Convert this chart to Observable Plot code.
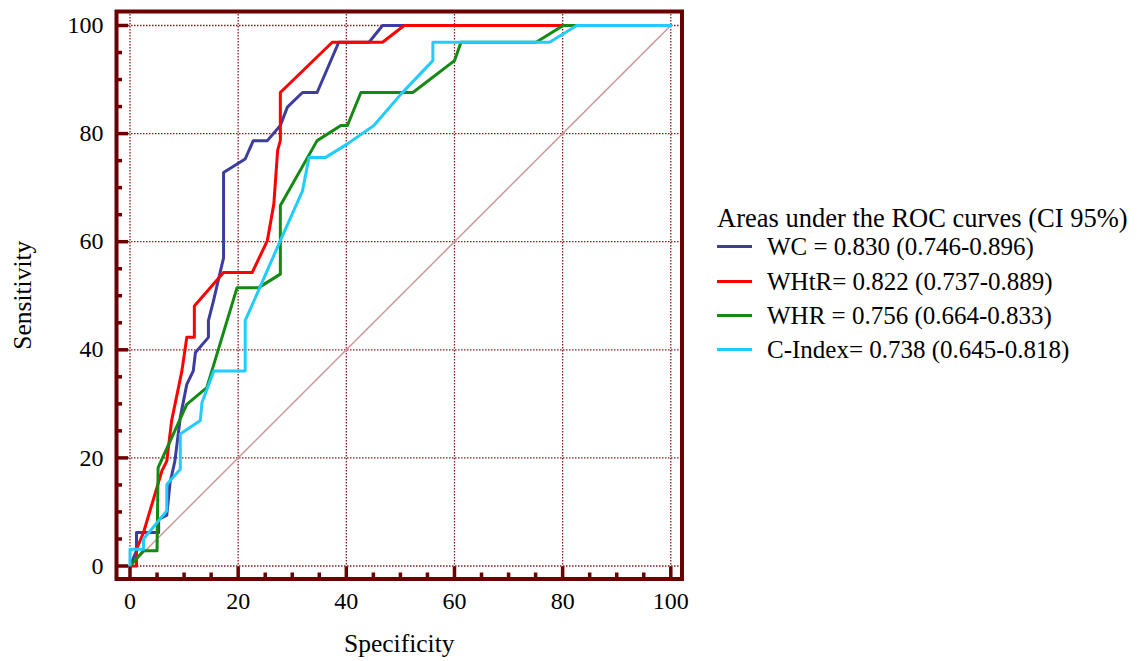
<!DOCTYPE html>
<html><head><meta charset="utf-8">
<script src="https://cdn.jsdelivr.net/npm/d3@7"></script>
<script src="https://cdn.jsdelivr.net/npm/@observablehq/plot@0.6"></script>
<style>
html,body{margin:0;padding:0;background:#fff;}
#wrap{position:relative;width:1138px;height:661px;font-family:"Liberation Serif","Tinos","DejaVu Serif","Noto Serif","Times New Roman",Times,serif;color:#000;}
#wrap svg{position:absolute;left:0;top:0;}
.lg{position:absolute;white-space:nowrap;line-height:1;}
.sw{position:absolute;width:35px;height:3px;}
</style></head><body><div id="wrap"></div>
<script>
// Series names, labels and colours
const seriesNames = ["WC", "WHtR", "WHR", "C-Index"];
const legendLabels = ["WC = 0.830 (0.746-0.896)", "WHtR= 0.822 (0.737-0.889)", "WHR = 0.756 (0.664-0.833)", "C-Index= 0.738 (0.645-0.818)"];
const legendTitle = "Areas under the ROC curves (CI 95%)";
const seriesColors = ["#3d3d9e", "#ff0000", "#138a13", "#22ccff"];

// ROC curves (x = axis labelled "Specificity", y = Sensitivity)
const wcX = [0, 1.2, 1.2, 5.3, 5.3, 6.8, 7.4, 8.3, 9.3, 10.5, 11.7, 12.1, 14.5, 14.5, 15.4, 17.3, 17.3, 21.3, 22.8, 25.4, 27.8, 29.1, 31.9, 34.6, 38.6, 44.2, 46.7, 100];
const wcY = [0, 2.8, 6.2, 6.2, 8.6, 9.4, 15.4, 19.4, 27.5, 33.6, 36.1, 39.5, 42.3, 45.4, 48.9, 57, 72.8, 75.3, 78.7, 78.7, 81.5, 84.9, 87.6, 87.6, 96.9, 96.9, 100, 100];

const whtrX = [0, 1.2, 1.2, 2.5, 5.9, 6.8, 7.7, 9.6, 10.5, 11.9, 11.9, 17.3, 22.6, 25.4, 26.6, 27.3, 27.8, 27.8, 37.4, 46.7, 50.7, 100];
const whtrY = [0, 0, 3.1, 6.2, 17.6, 19.4, 26.9, 36.1, 42.3, 42.3, 48.1, 54.3, 54.3, 60.2, 67, 76.9, 78.7, 87.6, 96.9, 96.9, 100, 100];

const whrX = [0, 2.5, 5.0, 5.2, 10.5, 14.2, 19.8, 23.8, 27.8, 27.8, 34.6, 39.0, 40.2, 42.7, 52.3, 60.0, 61.2, 75.1, 80.1, 100];
const whrY = [0, 2.8, 2.8, 18.2, 29.9, 33.0, 51.5, 51.5, 54.0, 66.7, 78.7, 81.5, 81.5, 87.6, 87.6, 93.5, 96.9, 96.9, 100, 100];

const cidxX = [0, 0, 2.5, 2.5, 6.8, 6.8, 9.3, 9.3, 13.0, 13.3, 15.5, 21.3, 21.3, 22.9, 27.8, 31.9, 33.1, 36.2, 40.2, 45.1, 50.1, 56.0, 56.0, 77.6, 82.6, 100];
const cidxY = [0, 3.1, 3.1, 5.0, 10.2, 15.1, 17.9, 24.4, 26.9, 30.2, 36.1, 36.1, 45.4, 49.0, 60.2, 69.4, 75.6, 75.6, 78.1, 81.5, 87.3, 93.5, 96.9, 96.9, 100, 100];

const diagX = [0, 100];
const diagY = [0, 100];

const majorTicks = [0, 20, 40, 60, 80, 100];
const minorTicks = [5, 10, 15, 25, 30, 35, 45, 50, 55, 65, 70, 75, 85, 90, 95];

const xs = [wcX, whtrX, whrX, cidxX];
const ys = [wcY, whtrY, whrY, cidxY];
const rows = [];
seriesNames.forEach((name, i) => xs[i].forEach((x, j) => rows.push({series: name, x, y: ys[i][j]})));
const diag = diagX.map((x, i) => ({x, y: diagY[i]}));

const serifFont = "'Liberation Serif', Tinos, 'DejaVu Serif', 'Noto Serif', 'Times New Roman', Times, serif";
const frameColor = "#6b0000";
const gridStyle = {stroke: "#8b1a1a", strokeOpacity: 1, strokeDasharray: "1.5,1.5", strokeWidth: 1.3};
const tickStyle = {stroke: frameColor, strokeWidth: 3.5, strokeOpacity: 1, tickFormat: () => "", label: null};

const plot = Plot.plot({
  width: 1138, height: 661,
  marginLeft: 116, marginRight: 456.5, marginTop: 11, marginBottom: 82.5,
  style: {fontFamily: serifFont, background: "transparent", color: "#000"},
  x: {domain: [0, 100], range: [129.5, 670.3]},
  y: {domain: [0, 100], range: [565.5, 25]},
  color: {domain: seriesNames, range: seriesColors},
  marks: [
    Plot.gridX(majorTicks, gridStyle),
    Plot.gridY(majorTicks, gridStyle),
    Plot.line(diag, {x: "x", y: "y", stroke: "#cf9a9a", strokeWidth: 1.6, strokeDasharray: "1.5,1"}),
    Plot.line(rows, {x: "x", y: "y", z: "series", stroke: "series", strokeWidth: 3, curve: "linear"}),
    Plot.frame({stroke: frameColor, strokeWidth: 4}),
    Plot.axisX(majorTicks, {tickSize: -12, ...tickStyle}),
    Plot.axisX(minorTicks, {tickSize: -6, ...tickStyle}),
    Plot.axisY(majorTicks, {tickSize: -12, ...tickStyle}),
    Plot.axisY(minorTicks, {tickSize: -6, ...tickStyle}),
    Plot.axisX(majorTicks, {tickSize: 0, tickPadding: 13, fontSize: 24, fontFamily: serifFont, fill: "#000", label: null}),
    Plot.axisY(majorTicks, {tickSize: 0, tickPadding: 13, fontSize: 24, fontFamily: serifFont, fill: "#000", label: null}),
    Plot.text(["Specificity"], {text: d => d, frameAnchor: "bottom", dy: 55, lineAnchor: "top", fontSize: 25.5, fontFamily: serifFont, fill: "#000"}),
    Plot.text(["Sensitivity"], {text: d => d, frameAnchor: "left", dx: -94, rotate: -90, lineAnchor: "middle", textAnchor: "middle", fontSize: 25.5, fontFamily: serifFont, fill: "#000"})
  ]
});

const wrap = document.getElementById("wrap");
wrap.appendChild(plot);

// Legend (to the right of the plot)
const t = document.createElement("div");
t.className = "lg";
t.style.left = "717px"; t.style.top = "205px"; t.style.fontSize = "26.5px";
t.textContent = legendTitle;
wrap.appendChild(t);
const baselines = [255, 290, 324, 358];
legendLabels.forEach((lab, i) => {
  const sw = document.createElement("div");
  sw.className = "sw";
  sw.style.left = "717px"; sw.style.top = (baselines[i] - 9.8) + "px";
  sw.style.background = seriesColors[i];
  wrap.appendChild(sw);
  const d = document.createElement("div");
  d.className = "lg";
  d.style.left = "767px"; d.style.top = (baselines[i] - 21) + "px"; d.style.fontSize = "25px";
  d.textContent = lab;
  wrap.appendChild(d);
});
</script>
</body></html>
